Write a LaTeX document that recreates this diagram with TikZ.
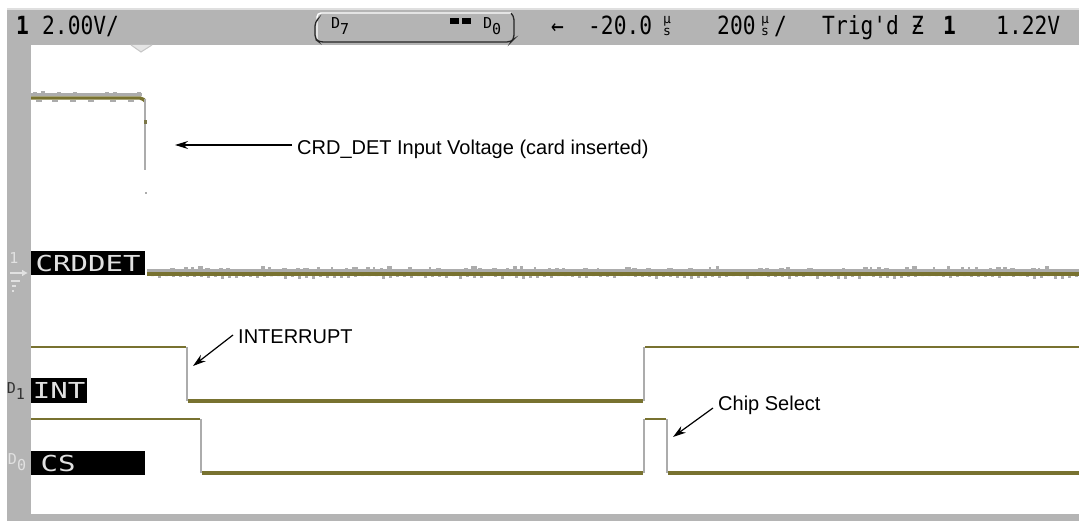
\documentclass[tikz,border=0pt]{standalone}
\usepackage{fontspec}
\setmainfont{Liberation Sans}
\newfontfamily\scopefont{DejaVu Sans Mono}
\usetikzlibrary{arrows.meta}
\definecolor{scopegray}{RGB}{180,180,180}
\definecolor{traceolive}{RGB}{120,114,48}
\definecolor{edgegray}{RGB}{172,172,172}
\definecolor{noisegray}{RGB}{172,172,172}
\definecolor{labeltext}{RGB}{225,225,225}
\newcommand\scopetxt[1]{\scalebox{0.85}[1]{\fontsize{25}{25}\selectfont\scopefont #1}}
\newcommand\lbltxt[1]{\scalebox{1.32}[1]{\fontsize{22}{22}\selectfont\scopefont #1}}
\tikzset{
  topitem/.style={anchor=base west, inner sep=0pt, text=black},
  unitglyph/.style={inner sep=0pt, text=black, align=center, font=\fontsize{13}{12.5}\selectfont\scopefont},
  sigbox/.style={fill=black, text=labeltext, inner sep=0pt, anchor=north west},
  annot/.style={anchor=west, inner xsep=5pt, inner ysep=0pt, text=black, font=\fontsize{20}{24}\selectfont},
  annarrow/.style={draw=black, line width=1.2pt, -{Stealth[length=13pt,width=8pt]}},
  hiwire/.style={draw=traceolive, line width=2.2pt},
  lowire/.style={draw=traceolive, line width=3.2pt},
  edgewire/.style={draw=edgegray, line width=1.6pt},
}
\begin{document}
\begin{tikzpicture}[x=1pt,y=-1pt]
\useasboundingbox (0,0) rectangle (1079,521);
\fill[white] (0,0) rectangle (1079,521);
% frame of the scope screen
\fill[gray!25] (7,8) rectangle (1079,10);
\fill[scopegray] (7,10) rectangle (1079,45);
\fill[scopegray] (7,45) rectangle (31,521);
\fill[scopegray] (7,514) rectangle (1079,521);
% top status line
\node[topitem] (ch) at (16,35) {\scalebox{0.85}[1]{\fontsize{25}{25}\selectfont\scopefont\bfseries 1}};
\node[topitem] (vdiv) at (42,35) {\scopetxt{2.00V/}};
% bus box
\draw[white, line width=1.4pt, rounded corners=4pt] (317,39) -- (317,13) -- (512,13);
\draw[black!85, line width=1.3pt, rounded corners=4pt] (317,20) -- (315,22) -- (315,39) -- (319,42) -- (511,42) -- (514,39) -- (514,16) -- (511,13);
\node[topitem] (d7) at (331,29) {\fontsize{15}{15}\selectfont\scopefont D\raisebox{-6pt}{7}};
\fill[black] (450,18) rectangle (459,24);
\fill[black] (462,18) rectangle (471,24);
\node[topitem] (d0) at (483,29) {\fontsize{15}{15}\selectfont\scopefont D\raisebox{-6pt}{0}};
\node[topitem] (larr) at (551,35) {\scopetxt{←}};
\node[topitem] (delay) at (588,35) {\scopetxt{-20.0}};
\node[unitglyph] (us1) at (667,26) {µ\\s};
\node[topitem] (tdiv) at (717,35) {\scopetxt{200}};
\node[unitglyph] (us2) at (765,26) {µ\\s};
\node[topitem] (slash) at (774,35) {\scopetxt{/}};
\node[topitem] (trig) at (822,35) {\scopetxt{Trig'd}};
\node[topitem] (slope) at (911,35) {\scopetxt{Ƶ}};
\node[topitem] (trch) at (943,35) {\scalebox{0.85}[1]{\fontsize{25}{25}\selectfont\scopefont\bfseries 1}};
\node[topitem] (lvl) at (996,35) {\scopetxt{1.22V}};
% trigger position marker
\draw[gray!45, line width=1pt, fill=gray!20] (131,45) -- (141,52) -- (152,45);
% ---------- channel 1 : CRD_DET ----------
\fill[noisegray] (31,93.5) rectangle (142,96.5);
\pgfmathsetseed{11}
\foreach \x in {33,41,...,137} {
  \pgfmathsetmacro\h{rnd*2.5}
  \fill[noisegray] (\x,{93.5-\h}) rectangle (\x+4,93.5);
}
\draw[traceolive, line width=3.4pt, rounded corners=2pt] (31,98) -- (142,98) -- (145,101);
\foreach \x in {36,52,70,88,110,128} {\fill[noisegray] (\x,100) rectangle (\x+6,102.5);}
\draw[edgegray, line width=1.8pt] (145,99) -- (145,170);
\fill[traceolive!70!gray] (144,120) rectangle (146.5,124);
\fill[edgegray] (144.5,192) rectangle (147,194);
\fill[noisegray] (147,269.5) rectangle (1079,272.5);
\pgfmathsetseed{5}
\foreach \x in {149,156,...,1073} {
  \pgfmathsetmacro\h{rnd*5-1.5}
  \pgfmathsetmacro\w{2+rnd*4}
  \fill[noisegray] (\x,{269.5-max(\h,0)}) rectangle (\x+\w,269.5);
  \pgfmathsetmacro\g{rnd*4-1}
  \fill[noisegray] (\x+2,276) rectangle (\x+5,{276+max(\g,0)});
}
\draw[traceolive, line width=3.6pt] (147,274.3) -- (1079,274.3);
\node[sigbox, minimum width=114pt, minimum height=24pt] (crdlbl) at (31,251) {\lbltxt{CRDDET}};
% channel 1 ground marker
\node[inner sep=0pt, text=labeltext, font=\fontsize{15}{15}\selectfont\scopefont] (gnd1) at (14,258) {1};
\draw[labeltext, line width=1.4pt, -{Latex[length=6pt,width=7pt]}] (10,273) -- (28,273);
\fill[labeltext] (11,280) rectangle (20,282);
\fill[labeltext] (12,285) rectangle (16,287);
\fill[labeltext] (12,290) rectangle (14,292);
% ---------- digital D1 : INT ----------
\draw[hiwire] (31,347) -- (186,347);
\draw[edgewire] (187,347) -- (187,401);
\draw[lowire] (188,401) -- (643,401);
\draw[edgewire] (644,401) -- (644,347);
\draw[hiwire] (645,347) -- (1079,347);
\node[sigbox, minimum width=56pt, minimum height=25pt] (intlbl) at (31,378) {\lbltxt{INT}};
\node[inner sep=0pt, text=black!80, font=\fontsize{15}{15}\selectfont\scopefont] (d1mark) at (16,391) {D\raisebox{-6pt}{1}};
% ---------- digital D0 : CS ----------
\draw[hiwire] (31,419) -- (200,419);
\draw[edgewire] (201,419) -- (201,473);
\draw[lowire] (202,473) -- (643,473);
\draw[edgewire] (644,473) -- (644,419);
\draw[hiwire] (645,419) -- (666,419);
\draw[edgewire] (667,419) -- (667,473);
\draw[lowire] (668,473) -- (1079,473);
\node[sigbox, minimum width=114pt, minimum height=24pt] (cslbl) at (31,451) {\lbltxt{CS}\hspace*{60pt}};
\node[inner sep=0pt, text=labeltext, font=\fontsize{15}{15}\selectfont\scopefont] (d0mark) at (17,462) {D\raisebox{-6pt}{0}};
% ---------- annotations ----------
\node[annot] (crdtxt) at (292,149) {CRD\_DET Input Voltage (card inserted)};
\coordinate (crdtip) at (175,145);
\draw[annarrow] ([yshift=4pt]crdtxt.west) -- (crdtip);
\node[annot] (inttxt) at (233,337) {INTERRUPT};
\coordinate (inttip) at (193,366);
\draw[annarrow] ([yshift=2pt]inttxt.west) -- (inttip);
\node[annot] (cstxt) at (713,405) {Chip Select};
\coordinate (cstip) at (673,437);
\draw[annarrow] ([yshift=-3pt]cstxt.west) -- (cstip);
\end{tikzpicture}
\end{document}
